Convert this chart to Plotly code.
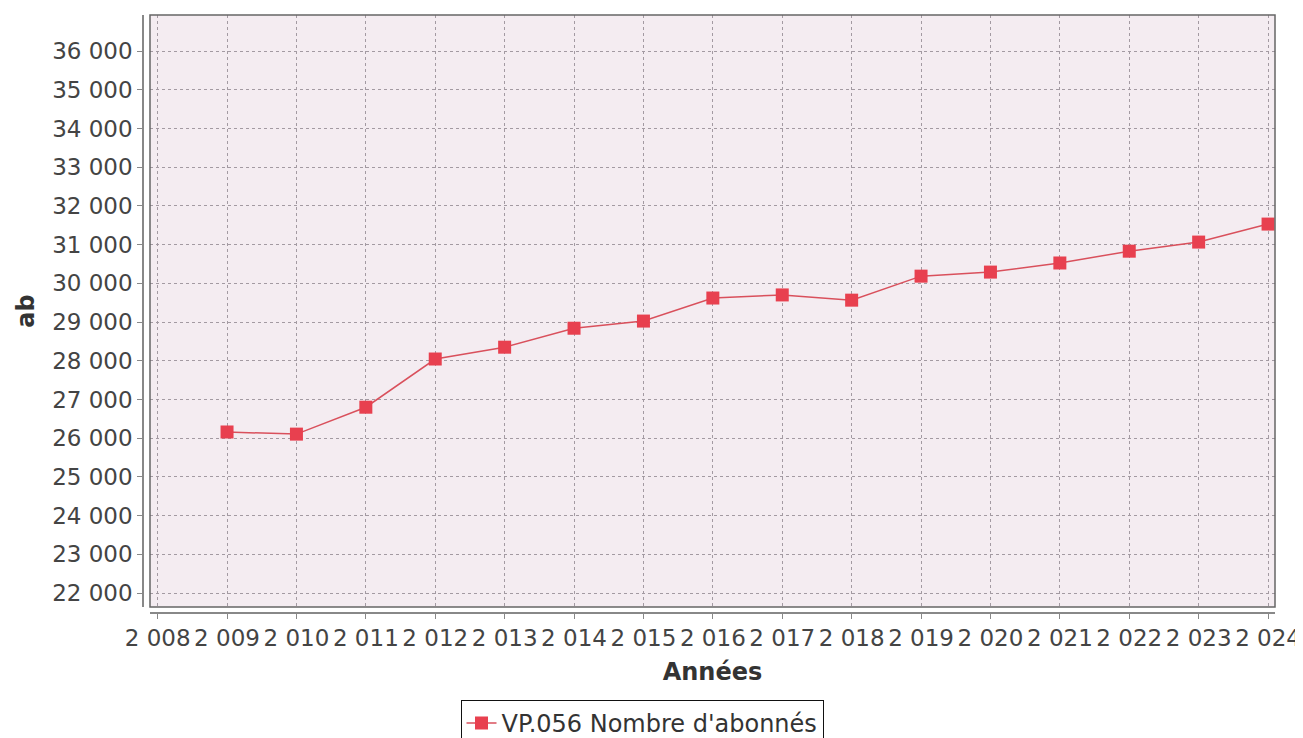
import plotly.graph_objects as go

years = [2009, 2010, 2011, 2012, 2013, 2014, 2015, 2016, 2017, 2018, 2019, 2020, 2021, 2022, 2023, 2024]
abonnes = [26160, 26105, 26800, 28045, 28350, 28840, 29025, 29620, 29700, 29565, 30185, 30290, 30525, 30830, 31065, 31530]
series_name = "VP.056 Nombre d'abonnés"
x_ticks = list(range(2008, 2025))
y_ticks = list(range(22000, 37000, 1000))

# page offset of the figure div (default body margin)
OFF = 8
W, H = 1303, 738
# desired positions in page pixels
axis_left_pg, plot_left_pg, plot_right_pg = 143, 150, 1275
plot_top_pg, plot_bottom_pg, axis_bottom_pg = 15, 607, 613

ml = axis_left_pg - OFF
mr = W - plot_right_pg + OFF
mt = plot_top_pg - OFF
mb = H - (axis_bottom_pg - OFF)
pw = W - ml - mr
ph = H - mt - mb
xdom0 = (plot_left_pg - axis_left_pg) / pw
ydom0 = (axis_bottom_pg - plot_bottom_pg) / ph

leg_x = (642 - OFF - ml) / pw
leg_y = -((700 - OFF) - (mt + ph)) / ph

text_col = "#444444"
fig = go.Figure()
fig.add_trace(go.Scatter(
    x=years, y=abonnes, mode="lines+markers", name=series_name,
    line=dict(color="#d9505c", width=1.5),
    marker=dict(symbol="square", size=13, color="#e8404f"),
))

fig.update_layout(
    width=W, height=H,
    margin=dict(l=ml, r=mr, t=mt, b=mb, autoexpand=False),
    paper_bgcolor="white",
    plot_bgcolor="#f4ecf1",
    separators=", ",
    font=dict(family="DejaVu Sans", color=text_col, size=23),
    showlegend=True,
    legend=dict(
        orientation="h", x=leg_x, xanchor="center",
        y=leg_y, yanchor="top",
        bordercolor="#111111", borderwidth=1, bgcolor="white",
        font=dict(size=24, color="#333333"),
        itemwidth=30,
    ),
    xaxis=dict(
        domain=[xdom0, 1], anchor="free", position=0,
        range=[2007.89, 2024.1], tickvals=x_ticks, tickformat=",d", tickangle=0,
        showline=True, linecolor="#888888", linewidth=1.5,
        ticks="outside", ticklen=5, tickcolor="#888888",
        showgrid=True, gridcolor="#a39aa2", griddash="3px,3px", gridwidth=1,
        zeroline=False,
        title=dict(text="<b>Années</b>", font=dict(size=24, color="#333333"), standoff=12),
        tickfont=dict(size=23, color=text_col),
    ),
    yaxis=dict(
        domain=[ydom0, 1], anchor="free", position=0,
        range=[21640, 36930], tickvals=y_ticks, tickformat=",d",
        showline=True, linecolor="#888888", linewidth=1.5,
        ticks="outside", ticklen=5, tickcolor="#888888",
        showgrid=True, gridcolor="#a39aa2", griddash="3px,3px", gridwidth=1,
        zeroline=False,
        title=dict(text="<b>ab</b>", font=dict(size=24, color="#333333"), standoff=10),
        tickfont=dict(size=23, color=text_col),
    ),
)
fig.add_shape(type="rect", xref="x domain", yref="y domain", x0=0, x1=1, y0=0, y1=1,
              line=dict(color="#666666", width=1.5), fillcolor="rgba(0,0,0,0)", layer="above")
fig.write_html("out.html")
